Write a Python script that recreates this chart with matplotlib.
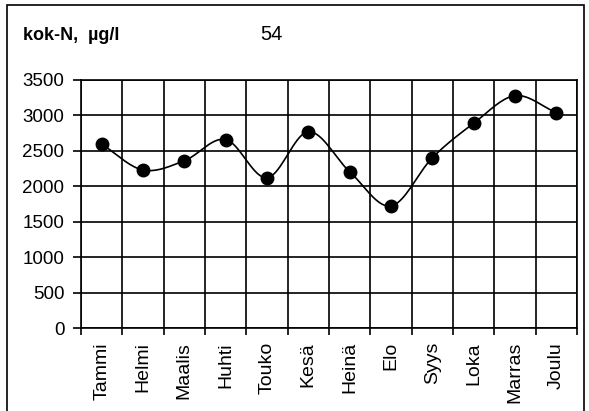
import numpy as np
import matplotlib.pyplot as plt
from matplotlib.patches import Rectangle

plt.rcParams['font.family'] = ['Liberation Sans', 'DejaVu Sans']

months = ["Tammi", "Helmi", "Maalis", "Huhti", "Touko", "Kesä",
          "Heinä", "Elo", "Syys", "Loka", "Marras", "Joulu"]
values = [2595, 2230, 2360, 2660, 2120, 2770, 2206, 1722, 2403, 2889, 3278, 3039]
title = "kok-N,  µg/l"
station = "54"

def catmull_rom(x, y, n=20):
    # smoothed line like the spreadsheet "smoothed line" option
    x = np.asarray(x, float)
    y = np.asarray(y, float)
    px = np.concatenate([[2 * x[0] - x[1]], x, [2 * x[-1] - x[-2]]])
    py = np.concatenate([[2 * y[0] - y[1]], y, [2 * y[-1] - y[-2]]])
    xs, ys = [], []
    t = np.linspace(0, 1, n)
    for i in range(1, len(px) - 2):
        for p, out in ((px, xs), (py, ys)):
            p0, p1, p2, p3 = p[i - 1], p[i], p[i + 1], p[i + 2]
            out.extend(0.5 * (2 * p1 + (-p0 + p2) * t
                              + (2 * p0 - 5 * p1 + 4 * p2 - p3) * t ** 2
                              + (-p0 + 3 * p1 - 3 * p2 + p3) * t ** 3))
    return np.array(xs), np.array(ys)

fig = plt.figure(figsize=(5.89, 4.11), dpi=100)
ax = fig.add_axes([81 / 589, 1 - 328 / 411, 496 / 589, 248 / 411])

x = np.arange(len(months))
sx, sy = catmull_rom(x, values)
ax.plot(sx, sy, color='black', lw=1.2, zorder=3)
ax.plot(x, values, 'o', color='black', ms=9, zorder=4)

ax.set_xlim(-0.5, len(months) - 0.5)
ax.set_ylim(0, 3500)
ax.set_yticks(np.arange(0, 3501, 500))
ax.set_xticks(x)
ax.set_xticklabels(months, rotation=90, fontsize=14)
ax.set_xticks(np.arange(-0.5, len(months)), minor=True)
ax.tick_params(axis='x', which='major', length=0, pad=10)
ax.tick_params(axis='x', which='minor', length=5, width=1.2, direction='out')
ax.tick_params(axis='y', labelsize=13.5, length=6, width=1.2, pad=6)
ax.grid(True, axis='y', color='black', lw=1.2)
ax.grid(True, axis='x', which='minor', color='black', lw=1.2)
for s in ax.spines.values():
    s.set_linewidth(1.2)

fig.text(23 / 589, 1 - 35 / 411, title, fontsize=13, fontweight='bold', va='center')
fig.text(271 / 589, 1 - 34 / 411, station, fontsize=14.5, ha='center', va='center')
fig.patches.append(Rectangle((7 / 589, -0.05), 577 / 589, 1.05 - 5 / 411,
                             transform=fig.transFigure, fill=False, ec='black', lw=1.2))

fig.savefig("out.png", dpi=100)
